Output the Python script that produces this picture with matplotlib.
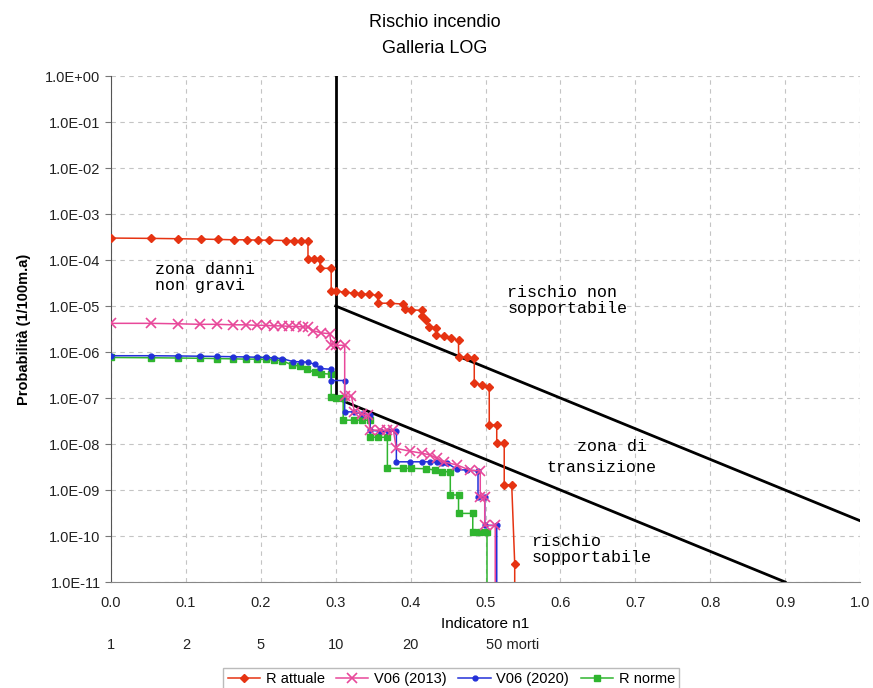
import matplotlib
matplotlib.use('Agg')
import matplotlib.pyplot as plt
import matplotlib.transforms as mtransforms

'''series read off the chart (x = indicatore n1, y = probabilita)'''
r_att_x = [0.000, 0.053, 0.090, 0.120, 0.143, 0.164, 0.181, 0.196, 0.211, 0.233, 0.244, 0.254, 0.263,
           0.263, 0.271, 0.279, 0.279, 0.294, 0.294, 0.301, 0.312, 0.324, 0.334, 0.344, 0.356,
           0.356, 0.372, 0.390, 0.392, 0.400, 0.415, 0.415, 0.421, 0.425, 0.434, 0.434, 0.444,
           0.454, 0.464, 0.464, 0.475, 0.485, 0.485, 0.495, 0.505, 0.505, 0.515, 0.515, 0.525,
           0.525, 0.535, 0.539, 0.539]
r_att_y = [3.0e-4, 2.95e-4, 2.9e-4, 2.85e-4, 2.8e-4, 2.75e-4, 2.75e-4, 2.7e-4, 2.7e-4, 2.65e-4, 2.65e-4, 2.6e-4, 2.6e-4,
           1.07e-4, 1.07e-4, 1.07e-4, 6.6e-5, 6.6e-5, 2.1e-5, 2.1e-5, 2.0e-5, 1.9e-5, 1.85e-5, 1.8e-5, 1.7e-5,
           1.15e-5, 1.15e-5, 1.1e-5, 8.5e-6, 8.3e-6, 8.0e-6, 6.0e-6, 5.0e-6, 3.5e-6, 3.4e-6, 2.3e-6, 2.2e-6,
           2.0e-6, 1.8e-6, 7.8e-7, 7.6e-7, 7.4e-7, 2.15e-7, 1.9e-7, 1.75e-7, 2.6e-8, 2.6e-8, 1.04e-8, 1.04e-8,
           1.3e-9, 1.3e-9, 2.5e-11, 1e-12]

v13_x = [0.000, 0.053, 0.090, 0.119, 0.142, 0.163, 0.180, 0.195, 0.207, 0.217, 0.228, 0.238, 0.247, 0.256, 0.263,
         0.270, 0.281, 0.292, 0.294, 0.301, 0.312, 0.312, 0.321, 0.325, 0.335, 0.343, 0.346, 0.359, 0.368,
         0.377, 0.381, 0.399, 0.415, 0.426, 0.435, 0.444, 0.462, 0.479, 0.493, 0.493, 0.499, 0.499, 0.513, 0.513]
v13_y = [4.2e-6, 4.2e-6, 4.1e-6, 4.0e-6, 4.0e-6, 3.9e-6, 3.9e-6, 3.8e-6, 3.8e-6, 3.7e-6, 3.7e-6, 3.6e-6, 3.6e-6, 3.5e-6, 3.5e-6,
         2.9e-6, 2.6e-6, 2.5e-6, 1.45e-6, 1.4e-6, 1.4e-6, 1.1e-7, 1.1e-7, 5.0e-8, 4.5e-8, 4.3e-8, 2.0e-8, 2.0e-8, 2.0e-8,
         2.0e-8, 8.0e-9, 7.0e-9, 6.3e-9, 5.8e-9, 4.9e-9, 4.1e-9, 3.5e-9, 2.7e-9, 2.6e-9, 7.1e-10, 7.1e-10, 1.7e-10, 1.7e-10, 1e-12]

v20_x = [0.000, 0.053, 0.090, 0.119, 0.142, 0.163, 0.180, 0.195, 0.207, 0.217, 0.228, 0.243, 0.254, 0.263,
         0.272, 0.279, 0.294, 0.294, 0.312, 0.312, 0.324, 0.335, 0.346, 0.346, 0.359, 0.370, 0.381, 0.381,
         0.399, 0.415, 0.426, 0.435, 0.442, 0.449, 0.462, 0.475, 0.490, 0.490, 0.499, 0.499, 0.515, 0.515]
v20_y = [8.3e-7, 8.3e-7, 8.2e-7, 8.1e-7, 8.0e-7, 7.9e-7, 7.8e-7, 7.7e-7, 7.6e-7, 7.4e-7, 7.2e-7, 6.2e-7, 6.1e-7, 6.0e-7,
         5.4e-7, 4.4e-7, 4.2e-7, 2.4e-7, 2.4e-7, 5.0e-8, 5.0e-8, 4.5e-8, 4.3e-8, 2.0e-8, 1.9e-8, 1.9e-8, 1.9e-8, 4.1e-9,
         4.1e-9, 4.1e-9, 4.1e-9, 4.0e-9, 3.9e-9, 3.8e-9, 2.8e-9, 2.7e-9, 2.6e-9, 7.1e-10, 7.1e-10, 1.7e-10, 1.7e-10, 1e-12]

r_norme_x = [0.000, 0.053, 0.090, 0.119, 0.142, 0.163, 0.180, 0.195, 0.207, 0.217, 0.228, 0.241, 0.252, 0.262,
             0.272, 0.281, 0.294, 0.294, 0.301, 0.310, 0.310, 0.324, 0.335, 0.346, 0.346, 0.356, 0.369, 0.369,
             0.390, 0.401, 0.421, 0.433, 0.442, 0.453, 0.453, 0.464, 0.464, 0.483, 0.483, 0.493, 0.502, 0.502]
r_norme_y = [7.6e-7, 7.5e-7, 7.4e-7, 7.3e-7, 7.2e-7, 7.1e-7, 7.0e-7, 7.0e-7, 6.9e-7, 6.8e-7, 6.5e-7, 5.3e-7, 4.9e-7, 4.2e-7,
             3.6e-7, 3.4e-7, 3.3e-7, 1.07e-7, 1.0e-7, 1.0e-7, 3.3e-8, 3.3e-8, 3.3e-8, 3.3e-8, 1.4e-8, 1.4e-8, 1.4e-8, 2.95e-9,
             2.95e-9, 2.95e-9, 2.9e-9, 2.7e-9, 2.5e-9, 2.5e-9, 7.8e-10, 7.8e-10, 3.1e-10, 3.1e-10, 1.2e-10, 1.2e-10, 1.2e-10, 1e-12]

'''limit lines'''
lim_vert_x = [0.3, 0.3]
lim_vert_y = [1.0, 1e-7]
lim_up_x = [0.3, 1.0]
lim_up_y = [1e-5, 2.15e-10]
lim_low_x = [0.3, 0.9]
lim_low_y = [1e-7, 1e-11]

yticks = [10.0**(-k) for k in range(0, 12)]
ytick_labels = ['1.0E+00'] + ['1.0E-%02d' % k for k in range(1, 12)]
xticks = [0.0, 0.1, 0.2, 0.3, 0.4, 0.5, 0.6, 0.7, 0.8, 0.9, 1.0]
morti_x = [0.0, 0.1, 0.2, 0.3, 0.4, 0.5]
morti_labels = ['1', '2', '5', '10', '20', '50 morti']

plt.rcParams['font.family'] = ['Liberation Sans', 'DejaVu Sans']

fig = plt.figure(figsize=(8.73, 6.88), dpi=100)
ax = fig.add_axes([111/873, 1-582/688, (860-111)/873, (582-76)/688])

ax.plot(lim_vert_x, lim_vert_y, color='black', lw=2, zorder=3)
ax.plot(lim_up_x, lim_up_y, color='black', lw=2, zorder=3)
ax.plot(lim_low_x, lim_low_y, color='black', lw=2, zorder=3)

ax.plot(r_norme_x, r_norme_y, color='#2fb52f', marker='s', ms=4.5, lw=1.1, label='R norme', zorder=4)
ax.plot(v20_x, v20_y, color='#2330d8', marker='o', ms=3.5, lw=1.1, label='V06 (2020)', zorder=5)
ax.plot(v13_x, v13_y, color='#e8489a', marker='x', ms=7, mew=1.2, lw=1.1, label='V06 (2013)', zorder=6)
ax.plot(r_att_x, r_att_y, color='#e63312', marker='D', ms=4.2, lw=1.1, label='R attuale', zorder=7)

ax.set_yscale('log')
ax.set_xlim(0, 1.0)
ax.set_ylim(1e-11, 1.0)
ax.set_yticks(yticks)
ax.set_yticklabels(ytick_labels)
ax.yaxis.set_minor_locator(matplotlib.ticker.NullLocator())
ax.set_xticks(xticks)
ax.set_xticklabels(['%.1f' % v for v in xticks])
ax.tick_params(axis='both', labelsize=10.5, colors='#222222', length=4, color='#777777')
ax.tick_params(axis='x', length=0, pad=10)
ax.grid(True, ls=(0, (4, 4)), color='#c4c4c4', lw=0.8)
for s in ['top', 'right']:
    ax.spines[s].set_visible(False)
ax.spines['left'].set_color('#555555')
ax.spines['bottom'].set_color('#888888')

ax.set_xlabel('Indicatore n1', fontsize=11, labelpad=5)
ax.set_ylabel('Probabilità (1/100m.a)', fontsize=10.5, labelpad=10, fontweight='bold')

fig.text(0.498, 0.968, 'Rischio incendio', ha='center', va='center', fontsize=13)
fig.text(0.498, 0.930, 'Galleria LOG', ha='center', va='center', fontsize=13)

mono = 'Liberation Mono'
ax.text(0.059, 10**-4.05, 'zona danni\nnon gravi', family=mono, fontsize=12, va='top', ha='left', linespacing=1.1)
ax.text(0.529, 10**-4.55, 'rischio non\nsopportabile', family=mono, fontsize=12, va='top', ha='left', linespacing=1.1)
ax.text(0.622, 10**-7.9, 'zona di', family=mono, fontsize=12, va='top', ha='left')
ax.text(0.582, 10**-8.35, 'transizione', family=mono, fontsize=12, va='top', ha='left')
ax.text(0.561, 10**-9.95, 'rischio\nsopportabile', family=mono, fontsize=12, va='top', ha='left', linespacing=1.1)

trans = mtransforms.blended_transform_factory(ax.transData, fig.transFigure)
for xv, lab in zip(morti_x, morti_labels):
    ax.text(xv, 1-645/688, lab, transform=trans, ha='left' if lab.endswith('morti') else 'center',
            va='center', fontsize=10.5, color='#222222')

fig.legend(handles=ax.get_lines()[3:][::-1], loc='center', bbox_to_anchor=(0.517, 0.013), ncol=4,
           fontsize=10.5, frameon=True, edgecolor='#aaaaaa', fancybox=False, handlelength=2.2,
           columnspacing=0.8, handletextpad=0.4, borderpad=0.3)

fig.savefig('out.png', dpi=100)
